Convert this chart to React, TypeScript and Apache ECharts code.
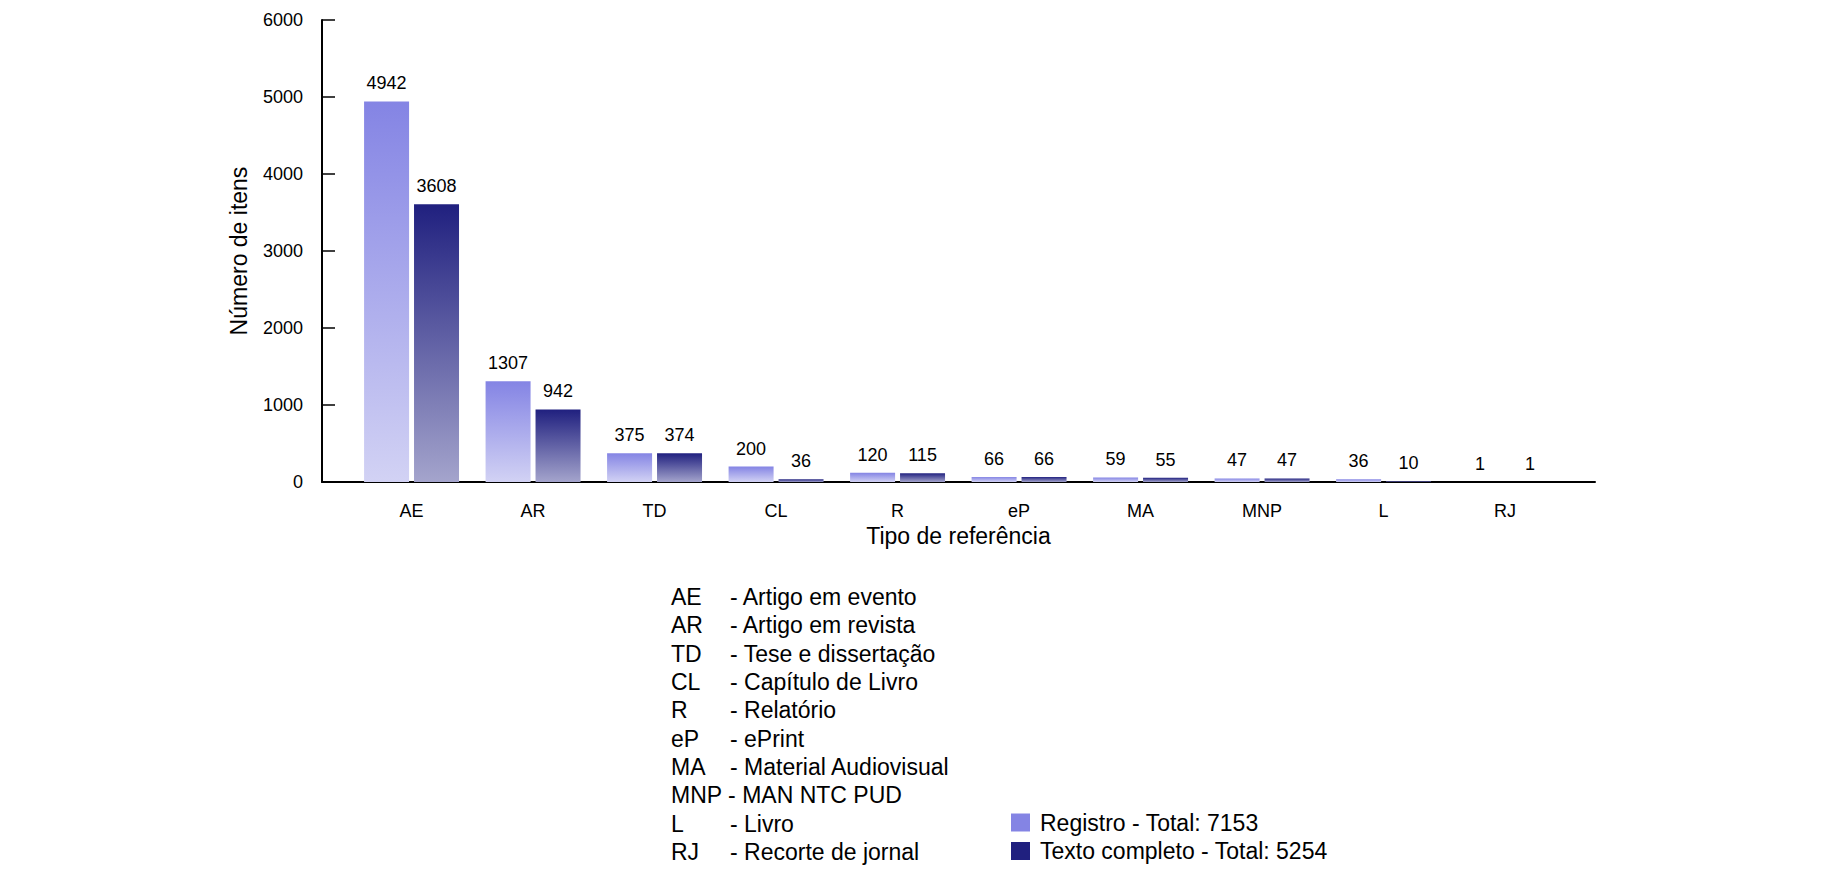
import { useEffect, useRef } from 'react'
import * as echarts from 'echarts'

// tipos de referência (eixo x)
const categories = ['AE', 'AR', 'TD', 'CL', 'R', 'eP', 'MA', 'MNP', 'L', 'RJ']
const descriptions = [
  'Artigo em evento',
  'Artigo em revista',
  'Tese e dissertação',
  'Capítulo de Livro',
  'Relatório',
  'ePrint',
  'Material Audiovisual',
  'MAN NTC PUD',
  'Livro',
  'Recorte de jornal',
]

const registro = [4942, 1307, 375, 200, 120, 66, 59, 47, 36, 1]
const textoCompleto = [3608, 942, 374, 36, 115, 66, 55, 47, 10, 1]

const yTicks = { min: 0, max: 6000, interval: 1000 }

const FONT = 'Liberation Sans, Arial, Helvetica, sans-serif'

const sum = (arr: number[]) => arr.reduce((a, b) => a + b, 0)

export default function App() {
  const containerRef = useRef<HTMLDivElement>(null)

  useEffect(() => {
    if (!containerRef.current) return
    const chart = echarts.init(containerRef.current, undefined, { renderer: 'svg' })

    const nameRegistro = `Registro - Total: ${sum(registro)}`
    const nameTexto = `Texto completo - Total: ${sum(textoCompleto)}`

    const gradRegistro = new echarts.graphic.LinearGradient(0, 0, 0, 1, [
      { offset: 0, color: '#8484e4' },
      { offset: 1, color: '#d2d2f4' },
    ])
    const gradTexto = new echarts.graphic.LinearGradient(0, 0, 0, 1, [
      { offset: 0, color: '#20207f' },
      { offset: 1, color: '#a4a4cc' },
    ])

    // lista de abreviaturas abaixo do gráfico
    const rowTop = 597
    const rowStep = 28.35
    const textStyle = { fontSize: 23, fontFamily: FONT, fill: '#000', verticalAlign: 'middle' }
    const listItems: any[] = []
    categories.forEach((c, i) => {
      const y = rowTop + i * rowStep
      if (c === 'MNP') {
        // linha única, como no original
        listItems.push({ type: 'text', x: 671, y, style: { ...textStyle, text: `${c} - ${descriptions[i]}` } })
        return
      }
      listItems.push({ type: 'text', x: 671, y, style: { ...textStyle, text: c } })
      listItems.push({ type: 'text', x: 730, y, style: { ...textStyle, text: '- ' + descriptions[i] } })
    })

    const labelStyle = {
      show: true,
      position: 'top' as const,
      distance: 9,
      fontSize: 18,
      fontFamily: FONT,
      color: '#000',
      formatter: (p: any) => String(p.value[1]),
    }

    chart.setOption({
      animation: false,
      backgroundColor: '#fff',
      textStyle: { fontFamily: FONT, color: '#000' },
      grid: { left: 322, right: 231, top: 20, bottom: 394, containLabel: false },
      legend: {
        orient: 'vertical',
        left: 1011,
        top: 811,
        padding: 0,
        itemWidth: 19,
        itemHeight: 18,
        itemGap: 5.5,
        icon: 'rect',
        textStyle: { fontSize: 23, lineHeight: 23, fontFamily: FONT, color: '#000', padding: [0, 0, 0, 5] },
        data: [
          { name: nameRegistro, itemStyle: { color: '#8484e4' } },
          { name: nameTexto, itemStyle: { color: '#20207f' } },
        ],
      },
      xAxis: {
        type: 'value',
        min: -0.737,
        max: 9.74,
        name: 'Tipo de referência',
        nameLocation: 'middle',
        nameGap: 41,
        nameTextStyle: { fontSize: 23, fontFamily: FONT, color: '#000' },
        axisLine: { show: true, onZero: false, lineStyle: { color: '#000', width: 2 } },
        axisTick: { show: false },
        splitLine: { show: false },
        axisLabel: {
          customValues: categories.map((_, i) => i),
          formatter: (v: number) => categories[Math.round(v)] ?? '',
          fontSize: 18,
          fontFamily: FONT,
          color: '#000',
          margin: 20,
        },
      },
      yAxis: {
        type: 'value',
        min: yTicks.min,
        max: yTicks.max,
        interval: yTicks.interval,
        name: 'Número de itens',
        nameLocation: 'middle',
        nameGap: 72,
        nameTextStyle: { fontSize: 23, fontFamily: FONT, color: '#000' },
        axisLine: { show: true, onZero: false, lineStyle: { color: '#000', width: 2 } },
        axisTick: { show: true, inside: true, length: 13, lineStyle: { color: '#000', width: 1.5 } },
        splitLine: { show: false },
        axisLabel: {
          fontSize: 18,
          fontFamily: FONT,
          color: '#000',
          margin: 19,
          formatter: (v: number) => String(v),
        },
      },
      series: [
        {
          type: 'bar',
          name: nameRegistro,
          data: registro.map((v, i) => [i, v]),
          barWidth: 45,
          barGap: '11%',
          itemStyle: { color: gradRegistro },
          label: labelStyle,
        },
        {
          type: 'bar',
          name: nameTexto,
          data: textoCompleto.map((v, i) => [i, v]),
          barWidth: 45,
          barGap: '11%',
          itemStyle: { color: gradTexto },
          label: labelStyle,
        },
      ],
      graphic: listItems,
    })

    const handleResize = () => chart.resize()
    window.addEventListener('resize', handleResize)
    return () => {
      window.removeEventListener('resize', handleResize)
      chart.dispose()
    }
  }, [])

  return (
    <div
      ref={containerRef}
      style={{ position: 'fixed', left: 0, top: 0, width: 1826, height: 876 }}
    />
  )
}
